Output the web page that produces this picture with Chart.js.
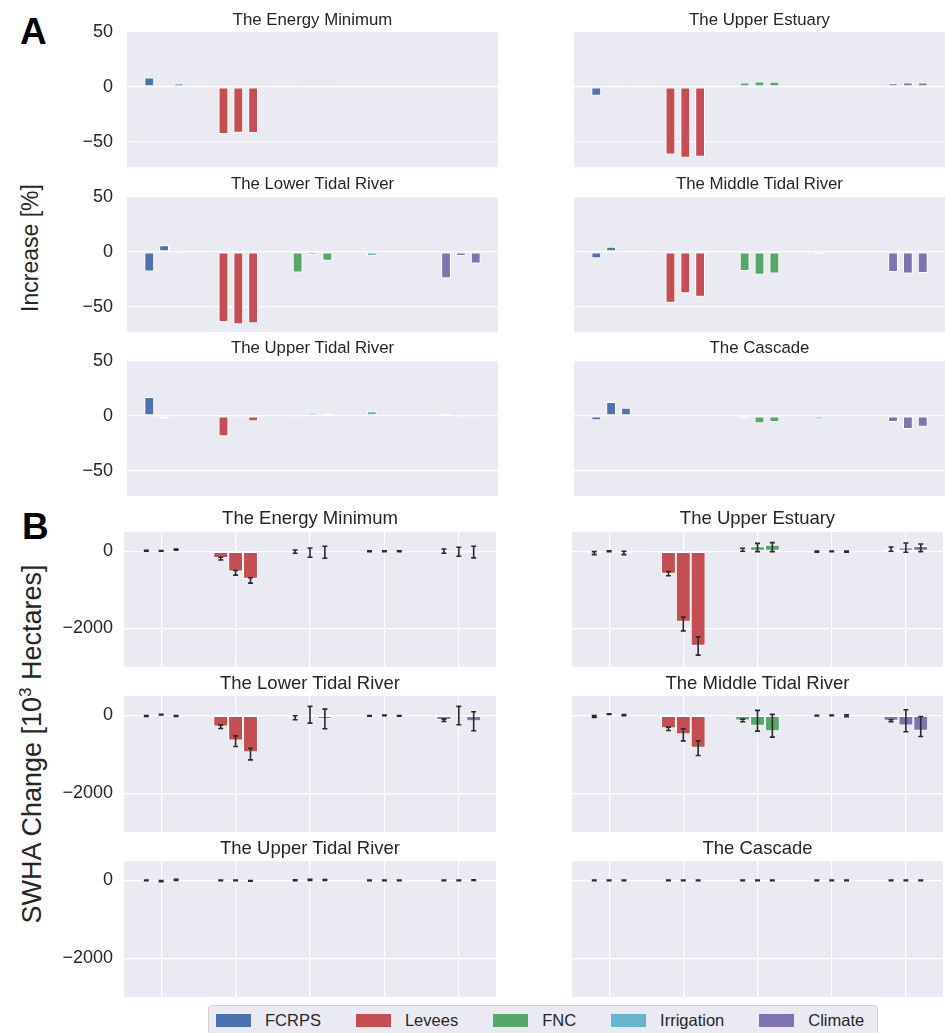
<!DOCTYPE html>
<html>
<head>
<meta charset="utf-8">
<script src="https://cdn.jsdelivr.net/npm/chart.js@4.4.1/dist/chart.umd.min.js"></script>
<style>
  body { margin: 0; width: 945px; height: 1033px; position: relative; overflow: hidden; background: #fff;
         font-family: 'Liberation Sans', Arial, sans-serif; color: #262626; }
  canvas { position: absolute; }
  .ttl { position: absolute; text-align: center; line-height: 1; white-space: nowrap; }
  .tag { position: absolute; font-weight: bold; font-size: 37px; line-height: 1; color: #000; }
  .ylab { position: absolute; line-height: 1; white-space: nowrap;
          transform: translate(-50%, -50%) rotate(-90deg); }
  #legend { position: absolute; left: 208px; top: 1005px; width: 670px; height: 40px; box-sizing: border-box;
            background: #eaeaf2; border: 1px solid #cdcdd4; border-radius: 4px;
            display: flex; align-items: flex-start; padding: 7px 0 0 7px; font-size: 16.5px; }
  #legend .it { display: flex; align-items: center; margin-right: 35px; height: 14px; }
  #legend .sw { width: 35px; height: 13px; margin-right: 14px; }
</style>
</head>
<body>
<div class="tag" style="left:20px; top:13px">A</div>
<div class="tag" style="left:22px; top:508px">B</div>
<div class="ylab" style="left:30px; top:248px; font-size:23px">Increase [%]</div>
<div class="ylab" style="left:31px; top:744px; font-size:27px">SWHA Change [10<sup style="font-size:17px">3</sup> Hectares]</div>
<div id="legend"></div>
<script>
// ====== DATA ======
const groups = ['FCRPS', 'Levees', 'FNC', 'Irrigation', 'Climate']

// panel A, increase [%] -> per group, three scenarios
const energyMinPct = [[8.5, 1, 3], [-43, -41.7, -42], [-1, -1, -1], [1, 0, 0], [0.8, -0.8, -0.5]]
const upperEstuaryPct = [[-8, 0, -1.5], [-61.5, -64.5, -63.6], [4, 5, 4.6], [0.3, 0, 0], [3.4, 4, 4]]
const lowerTidalPct = [[-17.8, 6, -1.2], [-64, -66, -65], [-18.7, -2.8, -8], [-3.7, 0, -1], [-24, -3.7, -10.7]]
const middleTidalPct = [[-5.8, 4.6, 0.3], [-46.4, -37.8, -40.8], [-17.5, -20.9, -19.6], [-2, 0.2, 0.2], [-18.4, -19.6, -19.3]]
const upperTidalPct = [[17.1, -2.4, 0.5], [-18.6, -1.2, -4.9], [-0.8, 2.8, 1.9], [4.3, 0.2, 0.3], [1.8, -1.5, -0.8]]
const cascadePct = [[-4, 12.6, 7.4], [0, 0, 0], [-2.4, -6.7, -5.5], [-3, 0.3, -0.5], [-5.5, -12, -10]]
const pctTicks = [-50, 0, 50]

// panel B, SWHA change [10^3 ha] with lower / upper error bounds
const energyMinSwha = [[15, 10, 40], [-172, -525, -713], [-10, -30, -10], [0, 0, 0], [0, -20, -20]]
const energyMinLo = [[5, 0, 25], [-224, -619, -826], [-52, -155, -181], [-10, -10, -10], [-52, -129, -172]]
const energyMinHi = [[25, 20, 55], [-155, -499, -688], [34, 86, 129], [10, 10, 10], [60, 103, 129]]

const upperEstuarySwha = [[-40, 0, -40], [-585, -1830, -2450], [40, 130, 170], [-10, 0, -10], [50, 100, 140]]
const upperEstuaryLo = [[-86, -10, -86], [-636, -2064, -2692], [0, -9, -9], [-25, -8, -25], [0, -26, -9]]
const upperEstuaryHi = [[-9, 10, 0], [-525, -1703, -2219], [77, 206, 224], [5, 8, 5], [112, 215, 189]]

const lowerTidalSwha = [[-15, 20, -15], [-284, -645, -945], [-50, 15, -95], [-10, 0, -10], [-120, 0, -150]]
const lowerTidalLo = [[-25, 10, -25], [-335, -800, -1144], [-112, -198, -344], [-20, -10, -20], [-155, -241, -396]]
const lowerTidalHi = [[-5, 30, -5], [-249, -525, -843], [-9, 232, 163], [0, 10, 0], [-95, 232, 95]]

const middleTidalSwha = [[-25, 35, 10], [-327, -482, -833], [-130, -266, -410], [-5, 0, -10], [-138, -258, -395]]
const middleTidalLo = [[-50, 25, -5], [-387, -654, -1032], [-163, -404, -559], [-15, -8, -35], [-163, -421, -542]]
const middleTidalHi = [[-5, 45, 20], [-301, -344, -654], [-95, 129, 26], [5, 8, 15], [-112, 146, -26]]

const upperTidalSwha = [[0, -15, 15], [0, 0, -10], [5, 15, 10], [0, 0, 0], [0, 0, 5]]
const upperTidalLo = [[-8, -30, 0], [-8, -8, -18], [-5, 0, 0], [-8, -8, -8], [-8, -8, -3]]
const upperTidalHi = [[8, 0, 30], [8, 8, -2], [15, 30, 20], [8, 8, 8], [8, 8, 13]]

const cascadeSwha = [[0, 0, 0], [0, 0, 0], [0, 0, 0], [0, 0, 0], [0, 0, 0]]
const cascadeLo = [[-8, -8, -8], [-8, -8, -8], [-8, -8, -8], [-8, -8, -8], [-8, -8, -8]]
const cascadeHi = [[8, 8, 8], [8, 8, 8], [8, 8, 8], [8, 8, 8], [8, 8, 8]]
const swhaTicks = [-2000, 0]

const groupColors = ['#4C72B0', '#C44E52', '#55A868', '#64B5CD', '#8172B2']

// ====== LAYOUT ======
const panels = [
    { title: 'The Energy Minimum', vals: energyMinPct, x: 127, y: 32, w: 371, h: 135, ticks: true, ty: 12 },
    { title: 'The Upper Estuary', vals: upperEstuaryPct, x: 574, y: 32, w: 371, h: 135, ticks: false, ty: 12 },
    { title: 'The Lower Tidal River', vals: lowerTidalPct, x: 127, y: 197, w: 371, h: 135, ticks: true, ty: 176 },
    { title: 'The Middle Tidal River', vals: middleTidalPct, x: 574, y: 197, w: 371, h: 135, ticks: false, ty: 176 },
    { title: 'The Upper Tidal River', vals: upperTidalPct, x: 127, y: 361, w: 371, h: 135, ticks: true, ty: 340 },
    { title: 'The Cascade', vals: cascadePct, x: 574, y: 361, w: 371, h: 135, ticks: false, ty: 340 },

    { title: 'The Energy Minimum', vals: energyMinSwha, lo: energyMinLo, hi: energyMinHi, x: 124, y: 532, w: 372, h: 135, ticks: true, ty: 508.5 },
    { title: 'The Upper Estuary', vals: upperEstuarySwha, lo: upperEstuaryLo, hi: upperEstuaryHi, x: 572, y: 532, w: 371, h: 135, ticks: false, ty: 508.5 },
    { title: 'The Lower Tidal River', vals: lowerTidalSwha, lo: lowerTidalLo, hi: lowerTidalHi, x: 124, y: 696, w: 372, h: 136, ticks: true, ty: 673.5 },
    { title: 'The Middle Tidal River', vals: middleTidalSwha, lo: middleTidalLo, hi: middleTidalHi, x: 572, y: 696, w: 371, h: 136, ticks: false, ty: 673.5 },
    { title: 'The Upper Tidal River', vals: upperTidalSwha, lo: upperTidalLo, hi: upperTidalHi, x: 124, y: 861, w: 372, h: 136, ticks: true, ty: 839 },
    { title: 'The Cascade', vals: cascadeSwha, lo: cascadeLo, hi: cascadeHi, x: 572, y: 861, w: 371, h: 136, ticks: false, ty: 839 },
]

// fill plot area (seaborn darkgrid look)
const bgPlugin = {
    id: 'bg',
    beforeDraw(chart) {
        const a = chart.chartArea
        chart.ctx.save()
        chart.ctx.fillStyle = '#EAEAF2'
        chart.ctx.fillRect(a.left, a.top, a.right - a.left, a.bottom - a.top)
        chart.ctx.restore()
    },
}

// error bars from lo / hi arrays
const errPlugin = {
    id: 'errbars',
    afterDatasetsDraw(chart) {
        const ctx = chart.ctx
        const ys = chart.scales.y
        chart.data.datasets.forEach((ds, di) => {
            if (!ds.lo) return
            chart.getDatasetMeta(di).data.forEach((bar, i) => {
                const x = bar.x
                const y1 = ys.getPixelForValue(ds.lo[i])
                const y2 = ys.getPixelForValue(ds.hi[i])
                ctx.save()
                ctx.strokeStyle = '#2a2a2a'
                ctx.lineWidth = 1.6
                ctx.beginPath()
                ctx.moveTo(x, y1)
                ctx.lineTo(x, y2)
                ctx.moveTo(x - 2.5, y1)
                ctx.lineTo(x + 2.5, y1)
                ctx.moveTo(x - 2.5, y2)
                ctx.lineTo(x + 2.5, y2)
                ctx.stroke()
                ctx.restore()
            })
        })
    },
}

const fmt = (v) => (v < 0 ? '\u2212' + Math.abs(v) : String(v))

function makePanel(p) {
    const swha = !!p.lo
    const yw = p.ticks ? 70 : 2
    const W = p.w + yw + 4
    const H = p.h + 24
    const cv = document.createElement('canvas')
    cv.width = W
    cv.height = H
    cv.style.left = p.x - yw + 'px'
    cv.style.top = p.y - 12 + 'px'
    cv.style.width = W + 'px'
    cv.style.height = H + 'px'
    document.body.appendChild(cv)

    const t = document.createElement('div')
    t.className = 'ttl'
    t.textContent = p.title
    t.style.fontSize = swha ? '18.5px' : '16.8px'
    t.style.left = p.x + 'px'
    t.style.width = p.w + 'px'
    t.style.top = (swha ? p.ty : p.ty - 0.5) + 'px'
    document.body.appendChild(t)

    const datasets = [0, 1, 2].map((k) => ({
        data: p.vals.map((g) => g[k]),
        lo: swha ? p.lo.map((g) => g[k]) : null,
        hi: swha ? p.hi.map((g) => g[k]) : null,
        backgroundColor: groupColors,
        borderColor: '#ffffff',
        borderWidth: 1,
        borderSkipped: false,
        categoryPercentage: 0.6,
        barPercentage: swha ? 1 : 0.66,
    }))

    const tickVals = swha ? swhaTicks : pctTicks

    new Chart(cv, {
        type: 'bar',
        data: { labels: groups, datasets },
        options: {
            responsive: false,
            animation: false,
            layout: { padding: { left: 0, right: 4, top: 12, bottom: 12 } },
            plugins: { legend: { display: false }, tooltip: { enabled: false } },
            scales: {
                x: {
                    ticks: { display: false },
                    grid: { display: swha, color: '#ffffff', lineWidth: 1.2, offset: false, drawTicks: false },
                    border: { display: false },
                    afterFit: (s) => { s.height = 0 },
                },
                y: {
                    min: swha ? -3000 : -73,
                    max: swha ? 500 : 50,
                    afterBuildTicks: (s) => { s.ticks = tickVals.map((v) => ({ value: v })) },
                    afterFit: (s) => {
                        s.width = yw
                        s.paddingTop = 0
                        s.paddingBottom = 0
                    },
                    ticks: {
                        display: p.ticks,
                        padding: swha ? 11 : 14,
                        color: '#262626',
                        font: { family: "'Liberation Sans', Arial, sans-serif", size: 18 },
                        callback: fmt,
                    },
                    grid: { color: '#ffffff', lineWidth: 1.2, drawTicks: false },
                    border: { display: false },
                },
            },
        },
        plugins: [bgPlugin, errPlugin],
    })
}

panels.forEach(makePanel)

// ====== LEGEND ======
const leg = document.getElementById('legend')
groups.forEach((g, i) => {
    const it = document.createElement('div')
    it.className = 'it'
    it.innerHTML = `<span class="sw" style="background:${groupColors[i]}"></span><span>${g}</span>`
    leg.appendChild(it)
})
</script>
</body>
</html>
